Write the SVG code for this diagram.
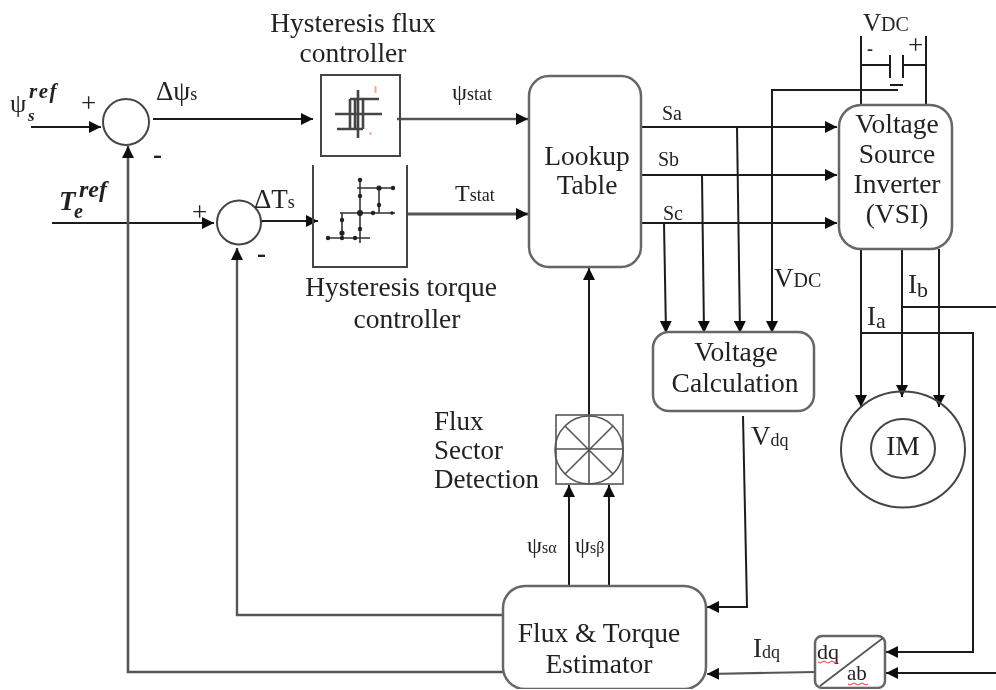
<svg xmlns="http://www.w3.org/2000/svg" width="996" height="690" viewBox="0 0 996 690">
<defs>
<marker id="a" markerUnits="userSpaceOnUse" markerWidth="13" markerHeight="13" refX="12" refY="6.5" orient="auto"><path d="M0 0.5L12 6.5L0 12.5Z" fill="#111"/></marker>
<filter id="soft" x="0" y="0" width="100%" height="100%"><feGaussianBlur stdDeviation="0.55"/></filter>
</defs>
<style>
.w{fill:none;stroke:#1c1c1c;stroke-width:2}
.g{fill:none;stroke:#555;stroke-width:3}
.ar{marker-end:url(#a)}
.b{fill:#fff;stroke:#666;stroke-width:2.5}
.k{fill:none;stroke:#444;stroke-width:2}
.n{fill:none;stroke:#555;stroke-width:1.6}
.t{font-family:"Liberation Serif","Times New Roman",serif;font-size:27.5px;fill:#222;text-anchor:middle}
.l{font-family:"Liberation Serif","Times New Roman",serif;font-size:27px;fill:#222}
.s{font-size:18px}
.m{font-style:italic;font-weight:bold}
.ic{fill:none;stroke:#333;stroke-width:1.6}
.ic2{fill:none;stroke:#444;stroke-width:2.6}
.d{fill:#222}
.sq{fill:none;stroke:#e33;stroke-width:1}
</style>
<rect width="996" height="690" fill="#fff"/>
<g filter="url(#soft)">
<g id="connectors">
<path class="w ar" d="M31 127H101"/>
<path class="w ar" d="M153 119H313"/>
<path class="g ar" d="M397 119H528" style="stroke-width:2.4"/>
<path class="g ar" d="M407 214H528"/>
<path class="w ar" d="M52 223H214"/>
<path class="w ar" d="M261 221H318"/>
<path class="g ar" d="M503 672H128V146" style="stroke-width:2.6"/>
<path class="g ar" d="M503 615H237V248" style="stroke-width:2.4"/>
<path class="w ar" d="M589 415V268"/>
<path class="w ar" d="M569 586V485"/>
<path class="w ar" d="M609 586V485"/>
<path class="w ar" d="M641 127H837"/>
<path class="w ar" d="M641 175H837"/>
<path class="w ar" d="M641 223H837"/>
<path class="w ar" d="M737 127L740 333"/>
<path class="w ar" d="M702 175L704 333"/>
<path class="w ar" d="M664 223L666 333"/>
<path class="w ar" d="M898 90H772V333"/>
<path class="w" d="M861 36V104M926 36V104M861 65H890M903 65H926M890 55V78M903 55V78M890 85H903"/>
<path class="w ar" d="M861 249V407"/>
<path class="w ar" d="M902 249V397"/>
<path class="w ar" d="M939 249V407"/>
<path class="w" d="M902 307H996"/>
<path class="w ar" d="M861 333H973V652H886"/>
<path class="w ar" d="M996 673H886"/>
<path class="w ar" d="M743 416L747 607H707"/>
<path class="g ar" d="M815 672L707 674" style="stroke-width:2.2"/>
</g>
<g id="sum1"><circle class="k" cx="126" cy="122" r="23"/></g>
<g id="sum2"><circle class="k" cx="239" cy="222.500" r="22"/></g>
<g id="flux-controller">
<rect class="k" x="321" y="75" width="79" height="81"/>
<path class="ic2" d="M358 90V138M335 114H382M350 99H379M337 129H363M350 99V129M363 99V129M355 99V129"/>
<rect x="374.500" y="86" width="2" height="7" fill="#eab18f"/><rect x="369.500" y="132" width="2" height="3" fill="#eab18f"/>
</g>
<g id="torque-controller">
<path class="k" d="M313 165V267H407V165"/>
<path class="ic" d="M360 178V243M340 213H395M357 188H393M379 188V213M342 213V238M327 238H370"/>
<g class="d"><circle cx="360" cy="180" r="2.200"/><circle cx="360" cy="196" r="2.200"/><circle cx="379" cy="188" r="2.600"/><circle cx="393" cy="188" r="2.200"/><circle cx="379" cy="205" r="2.200"/><circle cx="360" cy="213" r="3"/><circle cx="373" cy="213" r="2.200"/><circle cx="392" cy="213" r="1.800"/><circle cx="342" cy="220" r="2.200"/><circle cx="342" cy="233" r="2.600"/><circle cx="328" cy="238" r="2.200"/><circle cx="342" cy="238" r="2.200"/><circle cx="355" cy="238" r="2.200"/><circle cx="360" cy="229" r="2.200"/></g>
</g>
<g id="lookup"><rect class="b" x="529" y="76" width="112" height="191" rx="20"/><text class="t" x="587" y="165">Lookup</text><text class="t" x="587" y="194">Table</text></g>
<g id="vsi"><rect class="b" x="839" y="105" width="113" height="144" rx="22"/><text class="t" x="897" y="133">Voltage</text><text class="t" x="897" y="163">Source</text><text class="t" x="897" y="193">Inverter</text><text class="t" x="897" y="223">(VSI)</text></g>
<g id="voltage-calc"><rect class="b" x="653" y="332" width="161" height="79" rx="16"/><text class="t" x="736" y="361">Voltage</text><text class="t" x="735" y="392">Calculation</text></g>
<g id="sector"><rect class="n" x="556" y="415" width="67" height="69"/><circle class="n" cx="589" cy="450" r="34"/><path class="n" d="M589 415V484M556 449H623M565 426L613 474M613 426L565 474"/></g>
<g id="estimator"><rect class="b" x="503" y="586" width="203" height="103" rx="22"/><text class="t" x="599" y="642">Flux &amp; Torque</text><text class="t" x="599" y="673">Estimator</text></g>
<g id="dq-ab"><rect class="b" x="815" y="636" width="70" height="52" rx="7"/><path class="n" d="M820 686L883 638"/><text class="l" x="817" y="659" style="font-size:22px">dq</text><text class="l" x="847" y="680" style="font-size:21px">ab</text>
<path class="sq" d="M818 662q2 2 4 0t4 0t4 0t4 0t4 0M848 684q2 2 4 0t4 0t4 0t4 0t4 0"/></g>
<g id="im"><ellipse class="k" cx="903" cy="449.500" rx="62" ry="58"/><ellipse class="k" cx="903" cy="448.500" rx="32" ry="29.500"/><text class="t" x="903" y="455">IM</text></g>
<g id="labels">
<text class="t" x="353" y="32">Hysteresis flux</text>
<text class="t" x="353" y="62">controller</text>
<text class="t" x="401" y="296">Hysteresis torque</text>
<text class="t" x="407" y="328">controller</text>
<text class="l" x="10" y="112" style="font-size:26px">ψ</text><text class="l m" x="28" y="121" style="font-size:17px">s</text><text class="l m" x="29" y="98" style="font-size:21px;letter-spacing:1.500px">ref</text>
<text class="l" x="81" y="112">+</text>
<text class="l" x="156" y="100">Δψ<tspan class="s">s</tspan></text>
<text class="l" x="153" y="163" style="font-weight:bold">-</text>
<text class="l m" x="59" y="210" style="font-size:27px">T</text><text class="l m" x="74" y="218" style="font-size:20px">e</text><text class="l m" x="79" y="197" style="font-size:24px">ref</text>
<text class="l" x="192" y="221">+</text>
<text class="l" x="254" y="208">ΔT<tspan class="s">s</tspan></text>
<text class="l" x="257" y="262" style="font-weight:bold">-</text>
<text class="l" x="452" y="100" style="font-size:24px">ψ<tspan class="s">stat</tspan></text>
<text class="l" x="455" y="201" style="font-size:24px">T<tspan class="s">stat</tspan></text>
<text class="l" x="662" y="120" style="font-size:20px">Sa</text>
<text class="l" x="658" y="166" style="font-size:20px">Sb</text>
<text class="l" x="663" y="220" style="font-size:20px">Sc</text>
<text class="l" x="863" y="31" style="font-size:25px">V<tspan style="font-size:20px">DC</tspan></text>
<text class="l" x="867" y="55" style="font-size:18px;font-weight:bold">-</text>
<text class="l" x="908" y="54">+</text>
<text class="l" x="774" y="287">V<tspan style="font-size:20px">DC</tspan></text>
<text class="l" x="908" y="293">I<tspan dy="4" style="font-size:22px">b</tspan></text>
<text class="l" x="867" y="325">I<tspan dy="3" style="font-size:22px">a</tspan></text>
<text class="l" x="751" y="445">V<tspan class="s" dy="1">dq</tspan></text>
<text class="l" x="434" y="430">Flux</text>
<text class="l" x="434" y="459">Sector</text>
<text class="l" x="434" y="488">Detection</text>
<text class="l" x="527" y="553" style="font-size:24px">ψ<tspan style="font-size:16px">sα</tspan></text>
<text class="l" x="575" y="553" style="font-size:24px">ψ<tspan style="font-size:16px">sβ</tspan></text>
<text class="l" x="753" y="657">I<tspan class="s" dy="1">dq</tspan></text>
</g>
</g>
</svg>
